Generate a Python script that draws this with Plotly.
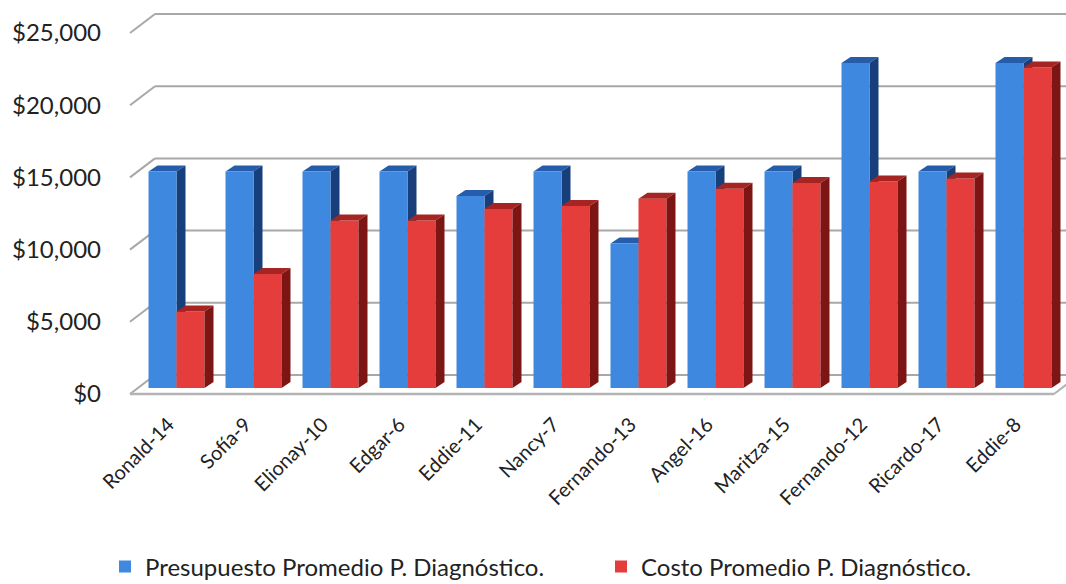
import plotly.graph_objects as go

categories = ["Ronald-14", "Sofía-9", "Elionay-10", "Edgar-6", "Eddie-11", "Nancy-7",
              "Fernando-13", "Angel-16", "Maritza-15", "Fernando-12", "Ricardo-17", "Eddie-8"]
presupuesto = [15000, 15000, 15000, 15000, 13300, 15000, 10000, 15000, 15000, 22500, 15000, 22500]
costo = [5300, 7900, 11600, 11600, 12400, 12600, 13100, 13800, 14200, 14300, 14500, 22200]
tick_values = [0, 5000, 10000, 15000, 20000, 25000]
series_names = ["Presupuesto Promedio P. Diagnóstico.", "Costo Promedio P. Diagnóstico."]

# styles
BLUE = ("#3E88DF", "#255DAA", "#163F7C")   # front, top, side
RED = ("#E53D3B", "#A62421", "#7C1514")
GRID = "#A8A8A8"
FONT = "Lato"

W, H = 1066, 584
ML, MR, MT, MB = 120, 0, 5, 184
PX_PER_CAT = 77.0
PX_PER_VAL = 14.44 / 1000.0
BASE_PX = 388  # pixel row of value 0 in the bar plane
LEFT_PX = 138  # pixel col of x=-0.5 in bar plane

n = len(categories)
plot_w = W - ML - MR
plot_h = H - MT - MB
x0 = -0.5 - (LEFT_PX - ML) / PX_PER_CAT
x1 = x0 + plot_w / PX_PER_CAT
y1 = (BASE_PX - MT) / PX_PER_VAL
y0 = y1 - plot_h / PX_PER_VAL

def ux(px):
    return px / PX_PER_CAT

def uy(px):
    return px / PX_PER_VAL

bar_w = (1 - 0.273) / 2
side_dx, side_dy = ux(9), uy(6)
front_dx, front_dy = ux(-8), uy(-6)
back_dx, back_dy = ux(17), uy(13)

shapes = []

def poly(pts, color, layer):
    path = "M " + " L ".join(f"{px},{py}" for px, py in pts) + " Z"
    shapes.append(dict(type="path", path=path, xref="x", yref="y", fillcolor=color,
                       line=dict(width=0), layer=layer))

def seg(xa, ya, xb, yb, width=2, color=GRID, layer="below"):
    shapes.append(dict(type="line", x0=xa, y0=ya, x1=xb, y1=yb, xref="x", yref="y",
                       line=dict(color=color, width=width), layer=layer))

# walls: gridlines on back wall + left side wall
left_edge = -0.5
right_edge = n - 0.5
for v in tick_values:
    seg(left_edge + front_dx, v + front_dy, left_edge + back_dx, v + back_dy)
    seg(left_edge + back_dx, v + back_dy, right_edge + back_dx + 1, v + back_dy)
# floor front edge
seg(left_edge + front_dx, front_dy, right_edge + front_dx, front_dy, width=2.5, color="#B4B4B4")
seg(right_edge + front_dx, front_dy, right_edge + back_dx, back_dy, width=2, color="#B4B4B4")

# 3D faces
for i in range(n):
    for vals, cols, off, layer in ((presupuesto, BLUE, -bar_w, "below"), (costo, RED, 0.0, "above")):
        v = vals[i]
        xa = i + off
        xb = xa + bar_w
        poly([(xa, v), (xb, v), (xb + side_dx, v + side_dy), (xa + side_dx, v + side_dy)], cols[1], layer)
        poly([(xb, 0), (xb, v), (xb + side_dx, v + side_dy), (xb + side_dx, side_dy)], cols[2], layer)

fig = go.Figure()
for name, vals, cols, off, lg in ((series_names[0], presupuesto, BLUE, -bar_w, "legend"),
                                  (series_names[1], costo, RED, 0.0, "legend2")):
    fig.add_trace(go.Bar(
        name=name, x=list(range(n)), y=vals, width=bar_w, offset=off,
        marker=dict(color=cols[0], line=dict(width=0)),
        hoverinfo="x+y", legend=lg,
    ))

legend_common = dict(orientation="h", xanchor="left", yanchor="middle",
                     yref="container", xref="container",
                     font=dict(family=FONT, size=24, color="#222222"),
                     itemwidth=30, bgcolor="rgba(0,0,0,0)")

fig.update_layout(
    width=W, height=H,
    margin=dict(l=ML, r=MR, t=MT, b=MB, autoexpand=False),
    paper_bgcolor="white", plot_bgcolor="white",
    barmode="overlay",
    shapes=shapes,
    showlegend=True,
    legend=dict(x=105 / W, y=(H - 567) / H, **legend_common),
    legend2=dict(x=601 / W, y=(H - 567) / H, **legend_common),
    font=dict(family=FONT, color="#222222"),
)
fig.update_xaxes(
    range=[x0, x1], tickmode="array", tickvals=list(range(n)), ticktext=categories,
    tickangle=-45, showgrid=False, zeroline=False, showline=False, ticks="",
    tickfont=dict(family=FONT, size=20, color="#222222"), automargin=False,
    ticklabelshift=-8, ticklabelstandoff=8,
)
fig.update_yaxes(
    range=[y0, y1], tickmode="array", tickvals=tick_values,
    ticktext=[f"${v:,}" for v in tick_values],
    showgrid=False, zeroline=False, showline=False, ticks="", automargin=False,
    tickfont=dict(family=FONT, size=24, color="#222222"),
    ticklabelshift=6, ticklabelstandoff=18,
)

fig.write_html("out.html")
